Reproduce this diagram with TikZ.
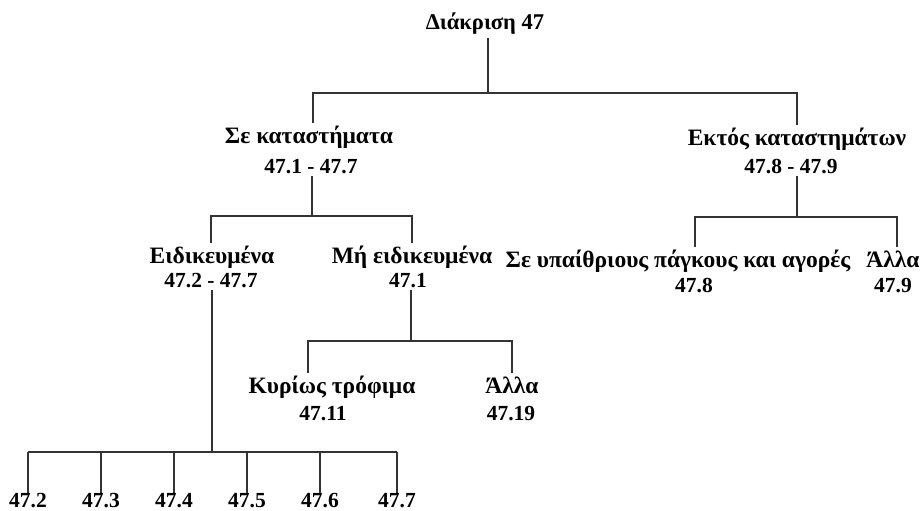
\documentclass[tikz,border=0pt]{standalone}
\usepackage{fontspec}
\setmainfont{Liberation Serif}
\begin{document}
\begin{tikzpicture}[x=1pt,y=-1pt,
  lbl/.style={anchor=base,inner sep=0pt,outer sep=3pt,font=\bfseries\fontsize{21.5}{25}\selectfont,text=black},
  gr/.style={lbl,font=\bfseries\fontsize{23.5}{28}\selectfont},
  conn/.style={draw=black!80,line width=1.6pt}]
\useasboundingbox[fill=white] (0,0) rectangle (924,511);
% nodes
\node[lbl,font=\bfseries\fontsize{22.5}{27}\selectfont] (root) at (485,30) {Διάκριση 47};
\node[gr] (sk) at (309,143) {Σε καταστήματα};
\node[lbl] (skn) at (311,173) {47.1 - 47.7};
\node[gr] (ek) at (797,145) {Εκτός καταστημάτων};
\node[lbl] (ekn) at (791,173) {47.8 - 47.9};
\node[gr] (ei) at (212,263) {Ειδικευμένα};
\node[lbl] (ein) at (211,287) {47.2 - 47.7};
\node[gr] (me) at (412,263) {Μή ειδικευμένα};
\node[lbl] (men) at (408,287) {47.1};
\node[gr] (sy) at (678,267) {Σε υπαίθριους πάγκους και αγορές};
\node[lbl] (syn) at (694,292) {47.8};
\node[gr] (al) at (893,267) {Άλλα};
\node[lbl] (aln) at (893,292) {47.9};
\node[gr] (kt) at (332,393) {Κυρίως τρόφιμα};
\node[lbl] (ktn) at (323,420) {47.11};
\node[gr] (ab) at (512,393) {Άλλα};
\node[lbl] (abn) at (511,420) {47.19};
\foreach \n/\x in {2/28,3/101,4/174,5/247,6/320,7/397}
  \node[lbl] (c\n) at (\x,507) {47.\n};
% junctions
\coordinate (j0) at (488,93);
\coordinate (j0l) at (313,93);
\coordinate (j0r) at (797,93);
\coordinate (j1) at (312,216);
\coordinate (j1l) at (211,216);
\coordinate (j1r) at (412,216);
\coordinate (j2) at (797,217);
\coordinate (j2l) at (695,217);
\coordinate (j2r) at (897,217);
\coordinate (j4) at (411,341);
\coordinate (j4l) at (308,341);
\coordinate (j4r) at (512,341);
\coordinate (j3) at (212,452);
% connectors
\draw[conn] (root.south -| j0) -- (j0);
\draw[conn] (j0l |- sk.north) -- (j0l) -- (j0r) -- (j0r |- ek.north);
\draw[conn] (skn.south -| j1) -- (j1);
\draw[conn] (j1l |- ei.north) -- (j1l) -- (j1r) -- (j1r |- me.north);
\draw[conn] (ekn.south -| j2) -- (j2);
\draw[conn] (j2l |- sy.north) -- (j2l) -- (j2r) -- (j2r |- al.north);
\draw[conn] (men.south -| j4) -- (j4);
\draw[conn] (j4l |- kt.north) -- (j4l) -- (j4r) -- (j4r |- ab.north);
\draw[conn] (ein.south -| j3) -- (j3);
\draw[conn] (c2.north |- j3) -- (c7.north |- j3);
\foreach \n in {2,...,7}
  \draw[conn] (c\n.north |- j3) -- ([yshift=-3pt]c\n.north);
\end{tikzpicture}
\end{document}
